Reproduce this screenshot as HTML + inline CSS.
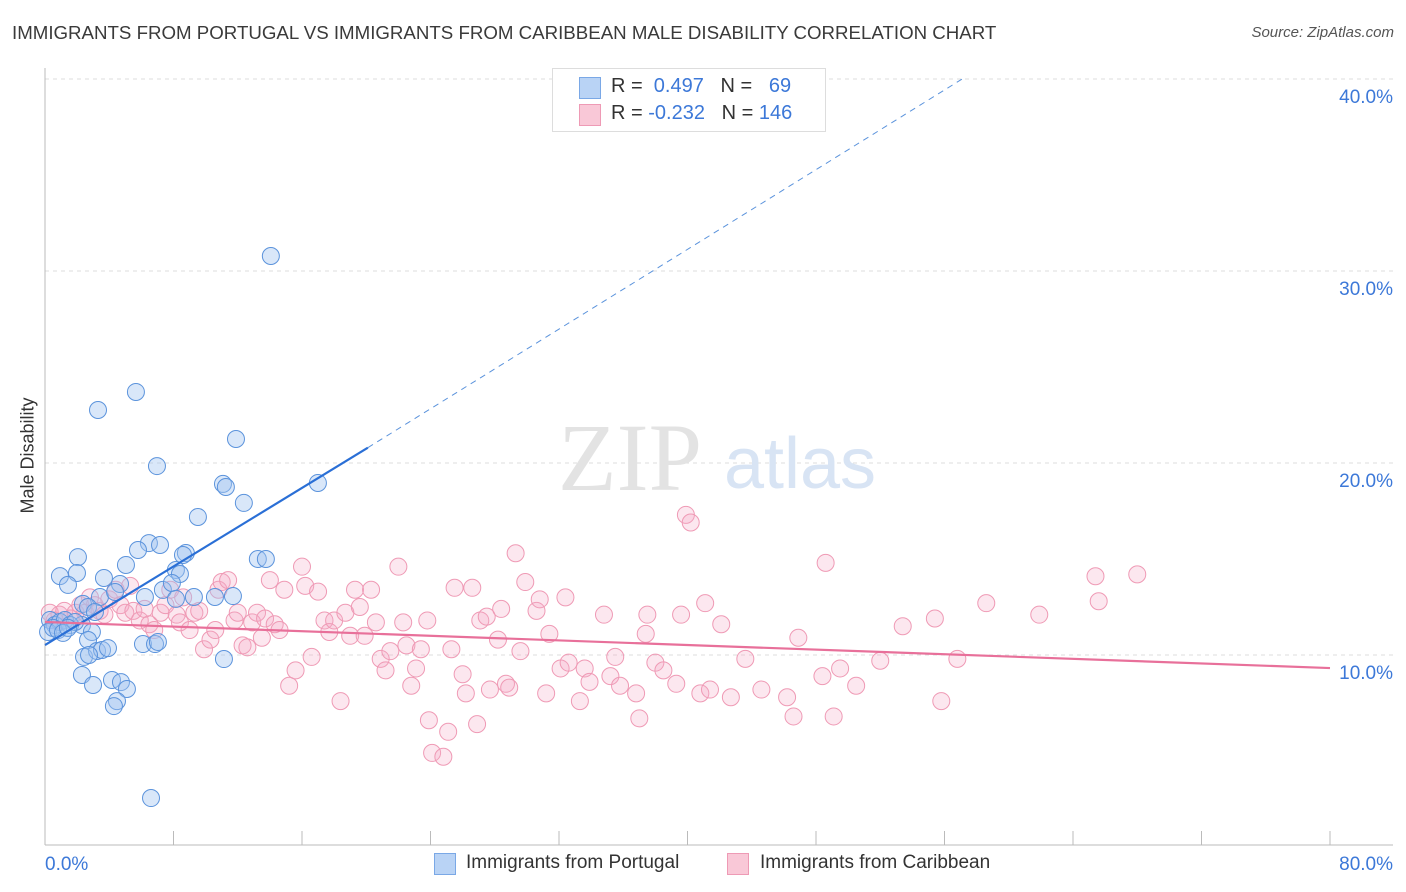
<!DOCTYPE html>
<html><head><meta charset="utf-8"><style>
body{margin:0;background:#fff;font-family:"Liberation Sans",sans-serif;}
#wrap{position:relative;width:1406px;height:892px;overflow:hidden;}
.t{position:absolute;white-space:nowrap;}
</style></head><body>
<div id="wrap">
<div class="t" style="left:12px;top:22px;font-size:18.7px;color:#3a3a3a;">IMMIGRANTS FROM PORTUGAL VS IMMIGRANTS FROM CARIBBEAN MALE DISABILITY CORRELATION CHART</div>
<div class="t" style="right:12px;top:24px;font-size:15px;font-style:italic;color:#555;">Source: ZipAtlas.com</div>
<div class="t" style="left:-30px;top:445px;font-size:18px;color:#333;transform:rotate(-90deg);">Male Disability</div>
<svg id="plot" width="1406" height="892" style="position:absolute;left:0;top:0"></svg>
<div style="position:absolute;left:552px;top:68px;width:272px;height:62px;border:1px solid #ddd;background:#fff;">
 <div style="position:absolute;left:26px;top:8px;width:20px;height:20px;background:#b9d3f5;border:1px solid #7aa8e6;"></div>
 <div class="t" style="left:58px;top:6px;font-size:20px;color:#333;">R = &nbsp;<span style="color:#3c78d8">0.497</span> &nbsp;&nbsp;N = &nbsp;&nbsp;<span style="color:#3c78d8">69</span></div>
 <div style="position:absolute;left:26px;top:35px;width:20px;height:20px;background:#f9c8d7;border:1px solid #ee9ab5;"></div>
 <div class="t" style="left:58px;top:33px;font-size:20px;color:#333;">R = <span style="color:#3c78d8">-0.232</span> &nbsp;&nbsp;N = <span style="color:#3c78d8">146</span></div>
</div>
<div style="position:absolute;left:434px;top:853px;width:20px;height:20px;background:#b9d3f5;border:1px solid #7aa8e6;"></div>
<div class="t" style="left:466px;top:852px;font-size:19px;color:#333;">Immigrants from Portugal</div>
<div style="position:absolute;left:727px;top:853px;width:20px;height:20px;background:#f9c8d7;border:1px solid #ee9ab5;"></div>
<div class="t" style="left:760px;top:852px;font-size:19px;color:#333;">Immigrants from Caribbean</div>
</div>
<script>
const yTicks=[10,20,30,40];
const yTickLabels=["10.0%","20.0%","30.0%","40.0%"];
const xTicks=[0,8,16,24,32,40,48,56,64,72,80];
const xEndLabels=["0.0%","80.0%"];
const portugalX=[14.06,5.66,3.30,11.89,6.97,11.08,11.26,12.38,16.99,9.52,6.47,7.16,5.79,8.77,8.59,2.05,5.04,13.25,13.75,8.15,8.40,0.93,1.99,3.67,4.67,1.43,7.34,7.90,3.42,4.36,11.70,9.27,10.58,8.15,6.22,6.10,6.85,7.03,11.14,2.36,2.68,2.30,3.11,2.92,2.68,2.43,3.24,3.55,3.92,2.74,2.30,2.99,4.17,4.73,5.10,4.48,4.29,6.60,0.31,0.62,0.93,1.24,1.56,1.87,0.19,0.50,0.81,1.12,1.43];
const portugalY=[30.78,23.7,22.76,21.25,19.84,18.91,18.75,17.92,18.96,17.19,15.83,15.73,15.47,15.31,15.21,15.10,14.69,15.0,15.0,14.43,14.22,14.11,14.27,14.01,13.70,13.65,13.39,13.75,13.02,13.28,13.07,13.02,13.02,12.92,13.02,10.57,10.57,10.68,9.79,12.66,12.5,11.56,12.24,11.20,10.78,9.90,10.21,10.26,10.36,10.0,8.96,8.44,8.70,8.59,8.23,7.60,7.34,2.55,11.82,11.56,11.72,11.82,11.56,11.72,11.2,11.41,11.30,11.15,11.41];
const caribX=[0.3,0.6,0.9,1.2,1.6,1.9,2.2,2.5,2.8,3.1,3.4,3.7,4.0,4.4,4.7,5.0,5.3,5.5,5.9,6.2,6.5,6.8,7.2,7.5,7.8,8.2,8.4,8.6,9.0,9.3,9.6,9.9,10.3,10.6,10.8,11.0,11.4,11.8,12.0,12.3,12.6,12.9,13.2,13.5,13.7,14.0,14.3,14.6,14.9,15.2,15.6,16.0,16.2,16.6,17.0,17.4,17.7,18.0,18.4,18.7,19.0,19.3,19.6,19.9,20.3,20.6,20.9,21.2,21.5,22.0,22.3,22.5,22.8,23.1,23.4,23.8,23.9,24.1,24.8,25.1,25.3,25.5,26.0,26.2,26.6,26.9,27.1,27.5,27.7,28.2,28.4,28.7,28.9,29.3,29.6,29.9,30.6,30.8,31.2,31.4,32.1,32.4,32.6,33.3,33.6,33.9,34.8,35.2,35.5,35.8,36.8,37.0,37.4,37.5,38.0,38.5,39.3,39.6,39.9,40.2,40.8,41.1,41.4,42.1,42.7,43.6,44.6,46.2,46.6,46.9,48.4,48.6,49.1,49.5,50.5,52.0,53.4,55.4,55.8,56.8,58.6,61.9,65.4,65.6,68.0];
const caribY=[12.2,11.8,12.1,12.3,11.9,12.2,12.6,12.2,13.0,12.6,12.3,12.1,12.9,13.4,12.6,12.2,13.6,12.3,11.8,12.4,11.6,11.3,12.2,12.6,13.4,12.1,11.7,13.0,11.3,12.2,12.3,10.3,10.8,11.3,13.4,13.8,13.9,11.8,12.2,10.5,10.4,11.7,12.2,10.9,11.9,13.9,11.6,11.3,13.4,8.4,9.2,14.6,13.6,9.9,13.3,11.8,11.2,11.8,7.6,12.2,11.0,13.4,12.5,11.0,13.4,11.7,9.8,9.2,10.2,14.6,11.7,10.5,8.4,9.3,10.3,11.8,6.6,4.9,4.7,6.0,10.3,13.5,9.0,8.0,13.5,6.4,11.8,12.0,8.2,10.8,12.4,8.5,8.3,15.3,10.2,13.8,12.3,12.9,8.0,11.1,9.3,13.0,9.6,7.6,9.3,8.6,12.1,8.9,9.9,8.4,8.0,6.7,11.1,12.1,9.6,9.2,8.5,12.1,17.3,16.9,8.0,12.7,8.2,11.6,7.8,9.8,8.2,7.8,6.8,10.9,8.9,14.8,6.8,9.3,8.4,9.7,11.5,11.9,7.6,9.8,12.7,12.1,14.1,12.8,14.2];
const portugalTrend=[[0,10.52],[20.1,20.8],[57.1,40.0]];
const caribTrend=[[0,11.72],[80,9.32]];

const X0=45,X1=1330,Y0=847,PPY=19.2;
const sx=v=>X0+v*(X1-X0)/80;
const sy=v=>Y0-v*PPY;
const NS="http://www.w3.org/2000/svg";
const svg=document.getElementById('plot');
function mk(tag,attrs){const e=document.createElementNS(NS,tag);for(const k in attrs)e.setAttribute(k,attrs[k]);svg.appendChild(e);return e;}

yTicks.forEach((t,i)=>{
 const g=mk('line',{x1:X0,x2:1393,y1:sy(t),y2:sy(t),stroke:'#ddd','stroke-dasharray':'4,4'});
 
 
 const l=mk('text',{x:1393,y:sy(t)+24,'text-anchor':'end','font-size':19,fill:'#3c78d8','font-family':'Liberation Sans, sans-serif'});
 l.textContent=yTickLabels[i];
 
 
});
const ya=mk('line',{x1:X0,x2:X0,y1:68,y2:845,stroke:'#bbb'});


const xa=mk('line',{x1:X0,x2:1393,y1:845,y2:845,stroke:'#bbb'});


xTicks.forEach(t=>{
 const k=mk('line',{x1:sx(t),x2:sx(t),y1:831,y2:845,stroke:'#bbb'});
 
 
});
[[0,'start',X0],[80,'end',1393]].forEach((d,i)=>{
 const l=mk('text',{x:d[2],y:870,'text-anchor':d[1],'font-size':19,fill:'#3c78d8','font-family':'Liberation Sans, sans-serif'});
 l.textContent=xEndLabels[i];
 
 
});
const w1=mk('text',{x:630,y:490,'text-anchor':'middle','font-size':96,fill:'#e3e3e3','font-family':'Liberation Serif, serif'});
w1.textContent='ZIP';


const w2=mk('text',{x:800,y:488,'text-anchor':'middle','font-size':72,fill:'#d8e4f4','font-family':'Liberation Sans, sans-serif'});
w2.textContent='atlas';



caribX.forEach((x,i)=>{
 const c=mk('circle',{cx:sx(x),cy:sy(caribY[i]),r:8.5,fill:'rgba(246,170,196,0.28)',stroke:'#ef9ab5','stroke-width':1});
 
 
});
portugalX.forEach((x,i)=>{
 const c=mk('circle',{cx:sx(x),cy:sy(portugalY[i]),r:8.5,fill:'rgba(160,196,240,0.4)',stroke:'#5b93dc','stroke-width':1});
 
 
});
const pt=portugalTrend;
const l1=mk('line',{x1:sx(pt[0][0]),y1:sy(pt[0][1]),x2:sx(pt[1][0]),y2:sy(pt[1][1]),stroke:'#2a6fd6','stroke-width':2.2});


const l2=mk('line',{x1:sx(pt[1][0]),y1:sy(pt[1][1]),x2:sx(pt[2][0]),y2:sy(pt[2][1]),stroke:'#5b93dc','stroke-width':1,'stroke-dasharray':'6,5'});


const ct=caribTrend;
const l3=mk('line',{x1:sx(ct[0][0]),y1:sy(ct[0][1]),x2:sx(ct[1][0]),y2:sy(ct[1][1]),stroke:'#e8709a','stroke-width':2.2});


</script>
</body></html>
